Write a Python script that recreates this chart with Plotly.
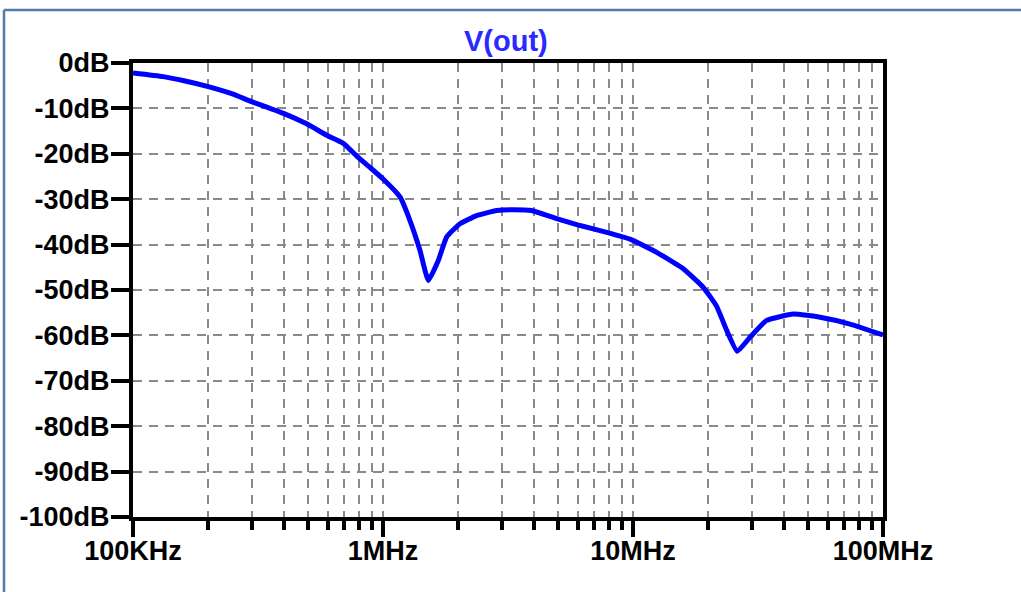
import plotly.graph_objects as go

# Frequency (Hz) and magnitude (dB)
freq_hz = [1.0e5, 1.32e5, 1.6e5, 2.0e5, 2.5e5, 2.98e5, 4.0e5, 4.95e5, 5.95e5, 6.94e5, 7.85e5, 8.87e5,
           1.003e6, 1.17e6, 1.282e6, 1.406e6, 1.518e6, 1.664e6, 1.798e6, 2.032e6, 2.37e6,
           2.85e6, 3.3e6, 3.93e6, 4.95e6, 6.14e6, 7.85e6, 9.73e6, 1.244e7, 1.589e7, 1.91e7,
           2.161e7, 2.37e7, 2.613e7, 2.94e7, 3.425e7, 4.377e7, 5.6e7, 7.38e7, 1.0e8]
mag_db = [-2.2, -3.0, -3.9, -5.2, -6.8, -8.5, -11.1, -13.4, -15.9, -17.7, -20.5, -23.0,
          -25.6, -29.5, -34.7, -41.3, -47.9, -43.5, -38.3, -35.4, -33.6,
          -32.5, -32.3, -32.5, -34.3, -35.8, -37.3, -38.8, -41.7, -45.3, -49.4,
          -53.6, -58.9, -63.5, -60.4, -56.7, -55.3, -56.0, -57.5, -59.9]

x_major_vals = [1e5, 1e6, 1e7, 1e8]
x_major_text = ["100KHz", "1MHz", "10MHz", "100MHz"]
y_vals = [0, -10, -20, -30, -40, -50, -60, -70, -80, -90, -100]
y_text = ["0dB", "-10dB", "-20dB", "-30dB", "-40dB", "-50dB", "-60dB", "-70dB", "-80dB", "-90dB", "-100dB"]
x_minor_vals = [d * 10 ** e for e in (5, 6, 7) for d in range(2, 10)]

FONT = "Liberation Sans, Arial, sans-serif"
GRID = "#8a8a8a"

fig = go.Figure()
fig.add_trace(go.Scatter(x=freq_hz, y=mag_db, mode="lines",
                         line=dict(color="#0000ff", width=5, shape="spline", smoothing=0.4),
                         showlegend=False, hoverinfo="skip"))

fig.update_layout(
    width=1021, height=592,
    margin=dict(l=133, r=138, t=63, b=75),
    paper_bgcolor="white", plot_bgcolor="white",
    xaxis=dict(type="log", range=[5, 8], tickvals=x_major_vals, ticktext=x_major_text,
               ticks="outside", ticklen=16, tickwidth=4, tickcolor="black",
               showline=True, linecolor="black", linewidth=4, mirror=True,
               showgrid=True, gridcolor=GRID, gridwidth=1.5, griddash="9px,7px",
               tickfont=dict(family=FONT, size=27, color="black", weight="bold"),
               ticklabelstandoff=-9,
               minor=dict(tickvals=x_minor_vals, ticks="outside", ticklen=9, tickwidth=4,
                          tickcolor="black", showgrid=True, gridcolor=GRID,
                          gridwidth=1.5, griddash="9px,7px"),
               zeroline=False),
    yaxis=dict(range=[-100, 0], tickvals=y_vals, ticktext=y_text,
               ticks="outside", ticklen=18, tickwidth=4, tickcolor="black",
               showline=True, linecolor="black", linewidth=4, mirror=True,
               showgrid=True, gridcolor=GRID, gridwidth=1.5, griddash="9px,7px",
               tickfont=dict(family=FONT, size=27, color="black", weight="bold"),
               ticklabelstandoff=-4,
               zeroline=False),
    annotations=[dict(text="V(out)", xref="paper", yref="paper", x=0.497, y=1.0,
                      yanchor="bottom", yshift=4, showarrow=False,
                      font=dict(family=FONT, size=29, color="#2a2aff", weight="bold"))],
    shapes=[
        dict(type="line", xref="paper", yref="paper", x0=-0.172, x1=1.2, y0=1.1167, y1=1.1167,
             line=dict(color="#4f7cab", width=2.5)),
        dict(type="line", xref="paper", yref="paper", x0=-0.172, x1=-0.172, y0=1.1167, y1=-0.2,
             line=dict(color="#4f7cab", width=2.5)),
    ],
)

fig.write_html("out.html", config={"displayModeBar": False},
               post_script="document.body.style.margin='0px';document.body.style.overflow='hidden';")
